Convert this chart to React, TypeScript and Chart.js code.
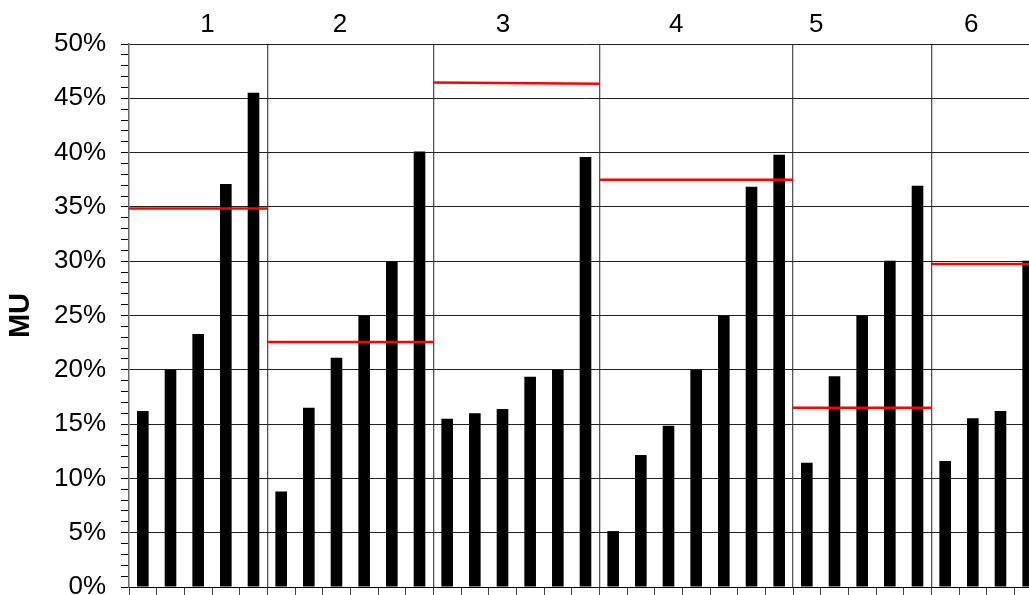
import React, { useEffect, useRef } from 'react';
import { Chart, registerables } from 'chart.js';

Chart.register(...registerables);

const FONT = "'Liberation Sans', Arial, Helvetica, sans-serif";

// Group names (top labels)
const groupNames = ['1', '2', '3', '4', '5', '6'];

// Bar values per group (percent)
const group1 = [16.2, 20.0, 23.3, 37.1, 45.5];
const group2 = [8.8, 16.5, 21.1, 25.0, 30.0, 40.1];
const group3 = [15.5, 16.0, 16.4, 19.35, 20.0, 39.6];
const group4 = [5.15, 12.15, 14.85, 20.0, 25.0, 36.85, 39.8];
const group5 = [11.45, 19.4, 25.0, 30.05, 36.95];
const group6 = [11.6, 15.55, 16.2, 30.05];

// Red reference level per group (start / end of the segment)
const redStart = [34.85, 22.55, 46.45, 37.5, 16.5, 29.75];
const redEnd = [34.85, 22.55, 46.35, 37.5, 16.5, 29.75];

// Position of each group label on the top axis (in category-index units)
const groupLabelPos = [2.34, 7.13, 13.02, 19.28, 24.34, 29.94];

// Y axis
const yMin = 0;
const yMax = 50;
const yStep = 1;
const yLabelEvery = 5;

const groups = [group1, group2, group3, group4, group5, group6];

export default function App() {
  const canvasRef = useRef<HTMLCanvasElement | null>(null);

  useEffect(() => {
    if (!canvasRef.current) return;

    const values: number[] = groups.flat();
    const labels: string[] = groups.flatMap((g, gi) => g.map((_, i) => `${groupNames[gi]}-${i + 1}`));
    const N = values.length;

    const starts: number[] = [];
    let acc = 0;
    groups.forEach((g) => {
      starts.push(acc);
      acc += g.length;
    });
    const bounds = groups.map((g, gi) => [starts[gi] - 0.5, starts[gi] + g.length - 0.5]);
    const separators = bounds.slice(0, -1).map((b) => b[1]);

    const redDatasets = groups.map((_, gi) => ({
      type: 'line' as const,
      xAxisID: 'xTop',
      yAxisID: 'y',
      data: [
        { x: bounds[gi][0], y: redStart[gi] },
        { x: bounds[gi][1], y: redEnd[gi] },
      ],
      borderColor: '#ff0000',
      borderWidth: 2.5,
      pointRadius: 0,
      fill: false,
      tension: 0,
      order: 0,
    }));

    const isSep = (v: number) => separators.some((s) => Math.abs(s - v) < 1e-6);

    const chart = new Chart(canvasRef.current, {
      type: 'bar',
      data: {
        labels,
        datasets: [
          {
            type: 'bar' as const,
            xAxisID: 'x',
            yAxisID: 'y',
            data: values,
            backgroundColor: '#000000',
            borderWidth: 0,
            barPercentage: 0.42,
            categoryPercentage: 1,
            grouped: false,
            order: 1,
          },
          ...redDatasets,
        ] as any,
      },
      options: {
        responsive: false,
        devicePixelRatio: 1,
        animation: false,
        layout: { padding: 0 },
        plugins: {
          legend: { display: false },
          tooltip: { enabled: false },
          title: { display: false },
        },
        scales: {
          x: {
            type: 'category',
            position: 'bottom',
            offset: true,
            grid: {
              offset: true,
              drawOnChartArea: false,
              drawTicks: true,
              tickLength: 8,
              tickColor: '#444',
              lineWidth: 1,
            },
            border: { display: true, color: '#000', width: 1 },
            ticks: { display: false },
            afterFit: (s: any) => {
              s.height = 33;
            },
          },
          xTop: {
            type: 'linear',
            position: 'top',
            min: -0.5,
            max: N - 0.5,
            offset: false,
            afterBuildTicks: (s: any) => {
              s.ticks = [...separators, ...groupLabelPos]
                .sort((a, b) => a - b)
                .map((v) => ({ value: v }));
            },
            afterFit: (s: any) => {
              s.height = 44;
            },
            grid: {
              offset: false,
              drawTicks: false,
              lineWidth: 1.3,
              color: (c: any) => (c.tick && isSep(c.tick.value) ? '#555' : 'rgba(0,0,0,0)'),
            },
            border: { display: false },
            ticks: {
              autoSkip: false,
              maxRotation: 0,
              padding: 4,
              color: '#000',
              font: { family: FONT, size: 26 },
              callback: (v: any) => {
                const i = groupLabelPos.findIndex((p) => Math.abs(p - Number(v)) < 1e-6);
                return i >= 0 ? groupNames[i] : '';
              },
            },
          },
          y: {
            type: 'linear',
            position: 'left',
            min: yMin,
            max: yMax,
            afterFit: (s: any) => {
              s.width = 129;
            },
            ticks: {
              stepSize: yStep,
              autoSkip: false,
              padding: 15,
              color: '#000',
              font: { family: FONT, size: 26 },
              callback: (v: any) => {
                const r = Math.round(Number(v));
                return r % yLabelEvery === 0 ? `${r}%` : '';
              },
            },
            grid: {
              color: (c: any) =>
                c.tick && Math.round(c.tick.value) % yLabelEvery === 0 ? '#222' : 'rgba(0,0,0,0)',
              lineWidth: 1,
              tickColor: '#000',
              tickLength: 8,
              tickWidth: 1,
            },
            border: { display: true, color: '#666', width: 1.5 },
            title: {
              display: true,
              text: 'MU',
              color: '#000',
              font: { family: FONT, size: 29, weight: 'bold' },
              padding: { top: 4, bottom: 0 },
            },
          },
        },
      } as any,
    });

    return () => {
      chart.destroy();
    };
  }, []);

  return (
    <div
      style={{
        position: 'fixed',
        left: 0,
        top: 0,
        width: 1029,
        height: 595,
        overflow: 'hidden',
        background: '#fff',
      }}
    >
      <canvas ref={canvasRef} width={1042} height={620} style={{ display: 'block' }} />
    </div>
  );
}
